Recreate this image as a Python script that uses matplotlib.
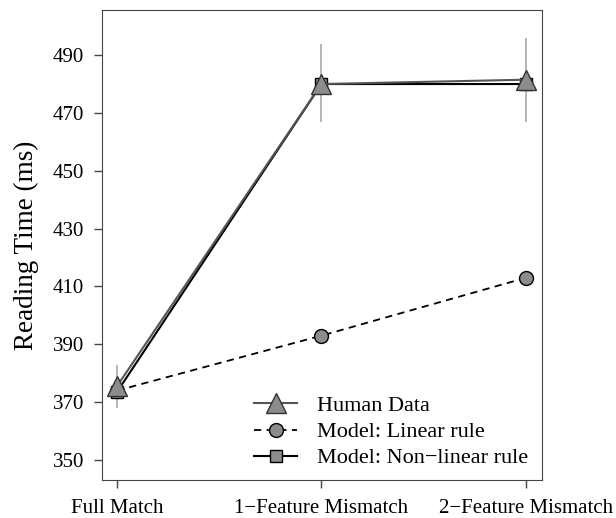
import matplotlib
matplotlib.use('Agg')
import matplotlib.pyplot as plt
import numpy as np

plt.rcParams['font.family'] = ['Liberation Serif', 'DejaVu Serif']

conditions = ['Full Match', '1\u2212Feature Mismatch', '2\u2212Feature Mismatch']
human = [375.5, 480.0, 481.5]
human_lo = [368.0, 467.0, 467.0]
human_hi = [383.0, 494.0, 496.0]
linear = [374.0, 393.0, 413.0]
nonlinear = [373.5, 480.0, 480.0]
yticks = [350, 370, 390, 410, 430, 450, 470, 490]

x = np.arange(1, len(conditions) + 1)

fig = plt.figure(figsize=(6.16, 5.18), dpi=100)
ax = fig.add_axes([0.1656, 0.0734, 0.7140, 0.9073])

ax.vlines(x, human_lo, human_hi, color='#b0b0b0', lw=1.3, zorder=1)
ax.plot(x, linear, ls=(0, (4, 3)), color='black', lw=1.3, marker='o', ms=10,
        mfc='#8c8c8c', mec='black', mew=1.0, label='Model: Linear rule', zorder=2)
ax.plot(x, nonlinear, ls='-', color='black', lw=1.5, marker='s', ms=8.5,
        mfc='#8c8c8c', mec='black', mew=1.0, label='Model: Non\u2212linear rule', zorder=3)
ax.plot(x, human, ls='-', color='#555555', lw=1.5, marker='^', ms=14,
        mfc='#8c8c8c', mec='#333333', mew=1.0, label='Human Data', zorder=4)

ax.set_xlim(0.927, 3.078)
ax.set_ylim(343.1, 505.6)
ax.set_xticks(x)
ax.set_xticklabels(conditions, fontsize=15)
ax.set_yticks(yticks)
ax.set_yticklabels([str(v) for v in yticks], fontsize=15)
ax.tick_params(axis='both', length=6, width=1, color='#444444')
ax.tick_params(axis='x', pad=8)
ax.tick_params(axis='y', pad=7)
for s in ax.spines.values():
    s.set_color('#444444')
ax.set_ylabel('Reading Time (ms)', fontsize=19.5, labelpad=10)

h, l = ax.get_legend_handles_labels()
order = [2, 0, 1]
ax.legend([h[i] for i in order], [l[i] for i in order], loc='lower right',
          frameon=False, fontsize=16, handlelength=1.95, handletextpad=0.9,
          labelspacing=0.25, bbox_to_anchor=(1.015, -0.018))

fig.savefig('out.png', dpi=100)
